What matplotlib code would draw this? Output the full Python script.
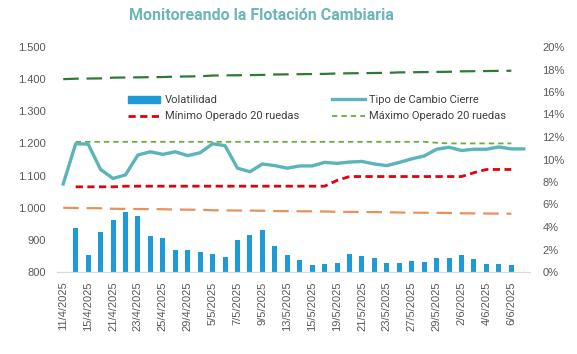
import numpy as np
import matplotlib
matplotlib.use("Agg")
import matplotlib.pyplot as plt
from matplotlib.patches import Patch
from matplotlib.lines import Line2D
from matplotlib.ticker import FuncFormatter

nan = np.nan

fechas = ["11/4/2025", "14/4/2025", "15/4/2025", "16/4/2025", "21/4/2025", "22/4/2025",
          "23/4/2025", "24/4/2025", "25/4/2025", "28/4/2025", "29/4/2025", "30/4/2025",
          "5/5/2025", "6/5/2025", "7/5/2025", "8/5/2025", "9/5/2025", "12/5/2025",
          "13/5/2025", "14/5/2025", "15/5/2025", "16/5/2025", "19/5/2025", "20/5/2025",
          "21/5/2025", "22/5/2025", "23/5/2025", "26/5/2025", "27/5/2025", "28/5/2025",
          "29/5/2025", "30/5/2025", "2/6/2025", "3/6/2025", "4/6/2025", "5/6/2025",
          "6/6/2025", "9/6/2025"]

tipo_cambio = [1074, 1199, 1198, 1119, 1091, 1102, 1164, 1174, 1166, 1174, 1162, 1171,
               1199, 1193, 1123, 1112, 1136, 1131, 1123, 1130, 1130, 1141, 1138, 1142,
               1144, 1136, 1131, 1141, 1152, 1161, 1182, 1188, 1178, 1182, 1182, 1189,
               1183, 1183]

volatilidad = [nan, 3.9, 1.5, 3.6, 4.6, 5.3, 5.0, 3.2, 3.0, 2.0, 1.95, 1.8,
               1.6, 1.35, 2.85, 3.25, 3.75, 2.3, 1.5, 1.05, 0.62, 0.74, 0.83, 1.6,
               1.42, 1.24, 0.77, 0.83, 0.95, 0.89, 1.24, 1.24, 1.48, 1.13, 0.71, 0.71,
               0.65, nan]

minimo = [nan, 1065, 1065, 1065, 1065, 1067, 1067, 1067, 1067, 1067, 1067, 1067,
          1067, 1067, 1067, 1067, 1067, 1067, 1067, 1067, 1067, 1067, 1085, 1097,
          1097, 1097, 1097, 1097, 1097, 1097, 1097, 1097, 1097, 1109, 1119, 1119,
          1119, nan]

maximo = [nan, 1205, 1205, 1205, 1205, 1205, 1205, 1205, 1205, 1205, 1205, 1205,
          1205, 1205, 1205, 1205, 1205, 1205, 1205, 1205, 1205, 1205, 1205, 1205,
          1205, 1205, 1205, 1205, 1205, 1205, 1202, 1200, 1200, 1200, 1200, 1200,
          1200, nan]

banda_sup = [1400, 1401.4, 1401.9, 1402.3, 1404.7, 1405.1, 1405.6, 1406.1, 1406.5,
             1407.9, 1408.4, 1408.9, 1411.2, 1411.7, 1412.1, 1412.6, 1413.1, 1414.5,
             1414.9, 1415.4, 1415.9, 1416.3, 1417.7, 1418.2, 1418.7, 1419.1, 1419.6,
             1421.0, 1421.5, 1421.9, 1422.4, 1422.9, 1424.3, 1424.7, 1425.2, 1425.7,
             1426.1, nan]

banda_inf = [1000, 999.0, 998.7, 998.3, 996.7, 996.3, 996.0, 995.7, 995.3, 994.3,
             994.0, 993.7, 992.0, 991.7, 991.3, 991.0, 990.7, 989.7, 989.3, 989.0,
             988.7, 988.3, 987.3, 987.0, 986.7, 986.3, 986.0, 985.0, 984.7, 984.3,
             984.0, 983.7, 982.7, 982.3, 982.0, 981.7, 981.3, nan]

c_bar = "#1E9BD7"
c_tc = "#5AB4B9"
c_min = "#E3000F"
c_max = "#6AAE3F"
c_sup = "#2F7A35"
c_inf = "#E8915A"
c_txt = "#595959"

x = np.arange(len(fechas))

fig = plt.figure(figsize=(5.77, 3.54), dpi=100)
ax = fig.add_axes([57 / 577, 1 - 272 / 354, 473 / 577, 225 / 354])
ax2 = ax.twinx()

# bars on the secondary axis, lines drawn above them
ax2.bar(x, volatilidad, width=0.4, color=c_bar)
ax.set_zorder(ax2.get_zorder() + 1)
ax.patch.set_visible(False)

ax.plot(x, banda_sup, color=c_sup, lw=1.6, dashes=(7, 3.5))
ax.plot(x, banda_inf, color=c_inf, lw=1.6, dashes=(7, 3.5))
ax.plot(x, maximo, color=c_max, lw=1.3, dashes=(3, 2.2))
ax.plot(x, minimo, color=c_min, lw=2.0, dashes=(2.6, 1.6))
ax.plot(x, tipo_cambio, color=c_tc, lw=2.4, solid_joinstyle="round")

ax.set_xlim(-0.5, len(fechas) - 0.5)
ax.set_ylim(800, 1500)
ax.set_yticks(range(800, 1501, 100))
ax.yaxis.set_major_formatter(FuncFormatter(lambda v, p: f"{int(v):,}".replace(",", ".")))
ax2.set_ylim(0, 20)
ax2.set_yticks(range(0, 21, 2))
ax2.yaxis.set_major_formatter(FuncFormatter(lambda v, p: f"{int(v)}%"))

ax.set_xticks(x[::2])
ax.set_xticklabels(fechas[::2], rotation=90)

for a in (ax, ax2):
    for s in ("top", "left", "right"):
        a.spines[s].set_visible(False)
    a.spines["bottom"].set_color("#D9D9D9")
ax.tick_params(axis="y", length=0, pad=8, labelsize=8, labelcolor=c_txt)
ax2.tick_params(axis="y", length=0, pad=9, labelsize=8, labelcolor=c_txt)
ax.tick_params(axis="x", length=0, pad=7, labelsize=8, labelcolor=c_txt)
for lab in ax.get_yticklabels() + ax2.get_yticklabels() + ax.get_xticklabels():
    lab.set_fontfamily("Liberation Sans")

handles = [Patch(color=c_bar),
           Line2D([], [], color=c_min, lw=2.0, dashes=(2.6, 1.6)),
           Line2D([], [], color=c_tc, lw=2.4),
           Line2D([], [], color=c_max, lw=1.3, dashes=(3, 2.2))]
labels = ["Volatilidad", "Mínimo Operado 20 ruedas",
          "Tipo de Cambio Cierre", "Máximo Operado 20 ruedas"]
leg = ax.legend(handles, labels, ncol=2, loc="center", bbox_to_anchor=(0.55, 0.728),
                frameon=False, handlelength=2.9, handleheight=0.6, handletextpad=0.4,
                columnspacing=3.0, labelspacing=0.55,
                prop={"family": "Roboto", "size": 8})
for t in leg.get_texts():
    t.set_color("#404040")

fig.text(261.5 / 577, 1 - 16 / 354, "Monitoreando la Flotación Cambiaria", ha="center",
         va="center", color="#6DB5B8", fontsize=11.5, fontweight="bold",
         family=["Liberation Sans Narrow", "Roboto"])

fig.savefig("out.png", dpi=100)
